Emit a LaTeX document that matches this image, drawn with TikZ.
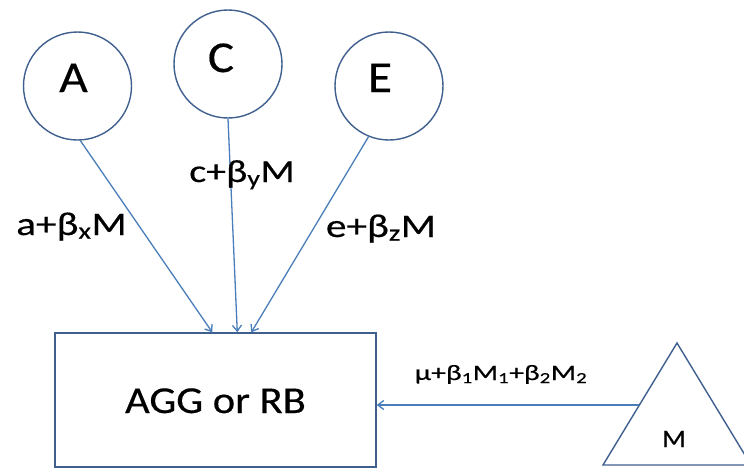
\documentclass[tikz,border=0pt]{standalone}
\usepackage{fontspec}
\setmainfont{Carlito}
\newfontfamily\pathfont{Carlito}[FakeStretch=1.25,FakeBold=0.4]
\newfontfamily\modfont{Carlito}[FakeStretch=1.35,FakeBold=0.4]
\newfontfamily\markfont{Carlito}[FakeStretch=1.12,FakeBold=0.4]
\usetikzlibrary{arrows.meta,calc}
\definecolor{shapeline}{HTML}{3F5F8E}
\definecolor{linkline}{HTML}{4A7EBB}
\tikzset{
  factor/.style={circle, draw=shapeline, line width=1.4pt, minimum size=108pt, inner sep=0pt},
  outcome/.style={rectangle, draw=shapeline, line width=1.4pt, minimum width=321pt, minimum height=134pt, inner sep=0pt},
  link/.style={draw=linkline, line width=1.3pt, -{Straight Barb[length=6pt,width=9pt,line width=1.3pt]}},
  lbl/.style={anchor=base, inner sep=0pt, text=black},
}
\begin{document}
\begin{tikzpicture}[x=1pt,y=-1pt]
  \clip (0,0) rectangle (744,472);
  \fill[white] (0,0) rectangle (744,472);

  % latent factors
  \node[factor] (A) at (77.5,86) {};
  \node[factor] (C) at (228,64) {};
  \node[factor] (E) at (389,86) {};
  \node[lbl, font=\markfont\fontsize{44}{44}\selectfont] (tA) at (73.5,92) {A};
  \node[lbl, font=\markfont\fontsize{44}{44}\selectfont] (tC) at (221,72) {C};
  \node[lbl, font=\markfont\fontsize{44}{44}\selectfont] (tE) at (380,92) {E};

  % outcome box
  \node[outcome, font=\markfont\fontsize{39}{39}\selectfont] (R) at (215.5,400) {};
  \node[lbl, font=\markfont\fontsize{38}{38}\selectfont] (tR) at (215.5,413) {AGG or RB};

  % moderator triangle
  \coordinate (Mtop) at (677,343);
  \coordinate (Mbl) at (603,465);
  \coordinate (Mbr) at (751,465);
  \draw[shapeline, line width=1.4pt, line join=miter] (Mtop) -- (Mbl) -- (Mbr) -- cycle;
  \node[lbl, font=\markfont\fontsize{25}{25}\selectfont] (tM) at (674,447) {M};

  % connector ends
  \coordinate (inA) at ([xshift=158pt]R.north west);
  \coordinate (inC) at ([xshift=183pt]R.north west);
  \coordinate (inE) at ([xshift=197pt]R.north west);
  \coordinate (outM) at ($(Mtop)!0.508!(Mbl)$);

  \draw[link] (A.-87) -- (inA);
  \draw[link] (C.south) -- (inC);
  \draw[link] (E.-112) -- (inE);
  \draw[link] (outM) -- (outM -| R.east);

  % path labels
  \node[lbl, font=\pathfont\fontsize{33}{33}\selectfont] (la) at (71.5,235) {a+β\textsubscript{x}M};
  \node[lbl, font=\pathfont\fontsize{32}{32}\selectfont] (lc) at (242,182) {c+β\textsubscript{y}M};
  \node[lbl, font=\pathfont\fontsize{33}{33}\selectfont] (le) at (381,237) {e+β\textsubscript{z}M};
  \node[lbl, font=\modfont\fontsize{22}{22}\selectfont] (lm) at (501,380) {μ+β\textsubscript{1}M\textsubscript{1}+β\textsubscript{2}M\textsubscript{2}};
\end{tikzpicture}
\end{document}
